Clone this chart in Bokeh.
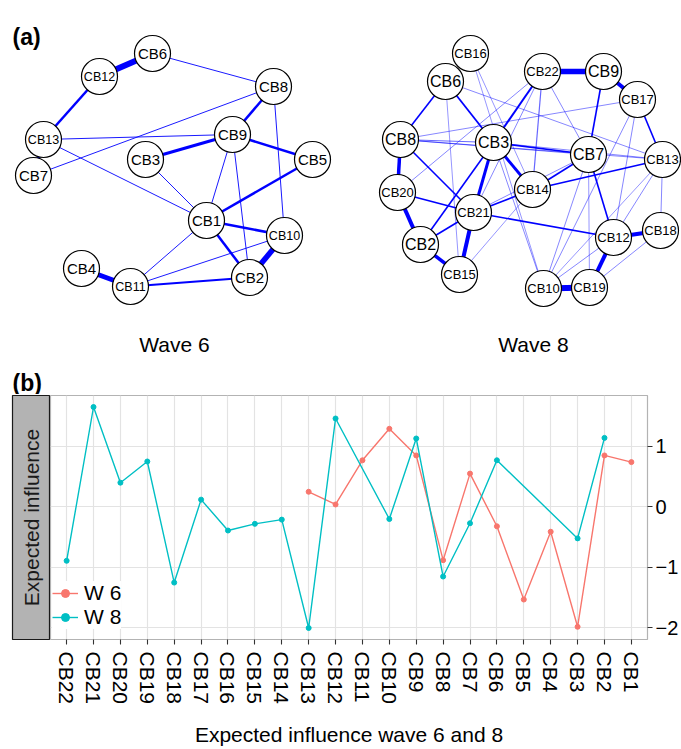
import math
from bokeh.plotting import figure
from bokeh.models import Range1d, FixedTicker, ColumnDataSource, Legend, LegendItem
from bokeh.layouts import column, row
from bokeh.embed import file_html
from bokeh.resources import INLINE
from bokeh.core.properties import value

FONT = "Liberation Sans"

# ---------------- data: panel (b) ----------------
categories = ["CB22", "CB21", "CB20", "CB19", "CB18", "CB17", "CB16", "CB15",
              "CB14", "CB13", "CB12", "CB11", "CB10", "CB9", "CB8", "CB7",
              "CB6", "CB5", "CB4", "CB3", "CB2", "CB1"]
w6_values = [None, None, None, None, None, None, None, None, None,
             0.25, 0.04, 0.77, 1.29, 0.85, -0.88, 0.55, -0.32, -1.53,
             -0.41, -1.98, 0.85, 0.74]
w8_values = [-0.89, 1.65, 0.40, 0.75, -1.25, 0.12, -0.39, -0.28, -0.21,
             -2.00, 1.46, None, -0.20, 1.13, -1.15, -0.27, 0.77, None,
             None, -0.52, 1.14, None]
y_ticks = [-2, -1, 0, 1]
y_tick_labels = ["\u22122", "\u22121", "0", "1"]
series_names = ["W 6", "W 8"]
series_colors = ["#F8766D", "#00BFC4"]

# ---------------- data: panel (a) networks (layout coordinates) ----------------
w6_nodes = ["CB1", "CB2", "CB3", "CB4", "CB5", "CB6", "CB7", "CB8", "CB9",
            "CB10", "CB11", "CB12", "CB13"]
w6_x = [206, 249, 145, 81, 312, 152, 33, 273, 232, 284, 130, 99, 43]
w6_y = [220, 277, 159, 268, 159, 53, 175, 86, 134, 235, 286, 76, 139]
w6_edges = [("CB6", "CB12", 6.0), ("CB6", "CB8", 1.0), ("CB12", "CB13", 2.5),
            ("CB13", "CB7", 3.5), ("CB13", "CB9", 1.0), ("CB13", "CB1", 1.0),
            ("CB7", "CB8", 1.0), ("CB8", "CB9", 2.5), ("CB8", "CB10", 1.0),
            ("CB9", "CB3", 3.0), ("CB9", "CB5", 2.5), ("CB9", "CB1", 1.0),
            ("CB9", "CB2", 1.0), ("CB3", "CB1", 1.0), ("CB5", "CB1", 2.5),
            ("CB1", "CB10", 2.5), ("CB1", "CB2", 2.5), ("CB1", "CB11", 1.0),
            ("CB10", "CB2", 5.5), ("CB10", "CB11", 1.0), ("CB4", "CB11", 5.0),
            ("CB11", "CB2", 2.0)]

w8_nodes = ["CB16", "CB6", "CB22", "CB9", "CB17", "CB8", "CB3", "CB7", "CB13",
            "CB20", "CB14", "CB21", "CB2", "CB15", "CB12", "CB18", "CB19", "CB10"]
w8_x = [470, 445, 542, 603, 637, 400, 493, 588, 662, 397, 532, 473, 420, 459,
        613, 660, 589, 543]
w8_y = [53, 81, 71, 71, 99, 139, 142, 154, 159, 192, 189, 212, 244, 274, 237,
        230, 287, 288]
w8_edges = [("CB22", "CB9", 5.5), ("CB9", "CB17", 4.0), ("CB9", "CB7", 1.6),
            ("CB17", "CB13", 1.6), ("CB17", "CB8", 0.8), ("CB17", "CB10", 0.8),
            ("CB17", "CB12", 0.8), ("CB22", "CB3", 2.0), ("CB22", "CB20", 0.8),
            ("CB22", "CB21", 0.8), ("CB22", "CB7", 0.8), ("CB22", "CB14", 1.2),
            ("CB6", "CB8", 1.6), ("CB6", "CB3", 1.8), ("CB6", "CB15", 0.7),
            ("CB6", "CB13", 0.8), ("CB16", "CB14", 0.7), ("CB16", "CB10", 0.7),
            ("CB8", "CB20", 3.5), ("CB8", "CB21", 1.6), ("CB8", "CB3", 1.2),
            ("CB8", "CB7", 0.9), ("CB8", "CB13", 0.8), ("CB20", "CB2", 4.0),
            ("CB20", "CB21", 1.6), ("CB2", "CB15", 3.5), ("CB2", "CB21", 1.6),
            ("CB2", "CB3", 1.6), ("CB21", "CB15", 4.0), ("CB21", "CB3", 3.0),
            ("CB21", "CB14", 1.6), ("CB21", "CB7", 0.8), ("CB21", "CB12", 1.6),
            ("CB3", "CB14", 3.0), ("CB3", "CB7", 1.6), ("CB3", "CB13", 0.8),
            ("CB3", "CB10", 0.8), ("CB14", "CB7", 1.6), ("CB14", "CB13", 1.6),
            ("CB15", "CB14", 0.7), ("CB7", "CB12", 1.6), ("CB7", "CB10", 0.8),
            ("CB7", "CB19", 0.7), ("CB13", "CB12", 0.8), ("CB13", "CB10", 0.7),
            ("CB13", "CB18", 0.8), ("CB12", "CB18", 4.0), ("CB12", "CB19", 4.0),
            ("CB12", "CB10", 0.8), ("CB18", "CB19", 0.8), ("CB10", "CB19", 6.0)]

network_titles = ["Wave 6", "Wave 8"]

# ---------------- panel (a) ----------------
pa = figure(width=681, height=394, x_range=Range1d(0, 681), y_range=Range1d(394, 0),
            x_axis_location=None, y_axis_location=None, output_backend="svg",
            toolbar_location=None, min_border=0)
pa.grid.visible = False
pa.outline_line_color = None


def draw_network(p, nodes, xs, ys, edges, big_fs, small_fs, thin_alpha):
    pos = {n: (x, y) for n, x, y in zip(nodes, xs, ys)}
    esrc = ColumnDataSource(dict(
        x0=[pos[a][0] for a, b, w in edges], y0=[pos[a][1] for a, b, w in edges],
        x1=[pos[b][0] for a, b, w in edges], y1=[pos[b][1] for a, b, w in edges],
        lw=[w for a, b, w in edges],
        la=[1.0 if w >= 1.5 else thin_alpha for a, b, w in edges]))
    p.segment("x0", "y0", "x1", "y1", source=esrc, line_width="lw", line_alpha="la",
              line_color="#0000FF")
    nsrc = ColumnDataSource(dict(x=xs, y=ys, t=nodes,
                                 fs=[big_fs if len(n) <= 3 else small_fs for n in nodes]))
    p.scatter("x", "y", source=nsrc, size=36, marker="circle", fill_color="white",
              line_color="black", line_width=1.2)
    p.text("x", "y", text="t", source=nsrc, text_font_size="fs", text_align="center",
           text_baseline="middle", text_font=value(FONT), text_color="black")


draw_network(pa, w6_nodes, w6_x, w6_y, w6_edges, "15px", "12.5px", 0.9)
draw_network(pa, w8_nodes, w8_x, w8_y, w8_edges, "16px", "13px", 0.6)

pa.text(x=[174, 533], y=[344, 344], text=network_titles, text_font_size="21px",
        text_align="center", text_baseline="middle", text_font=value(FONT),
        text_color="black")
pa.text(x=[12, 12], y=[36, 382], text=["(a)", "(b)"], text_font_size="23px",
        text_font_style="bold", text_align="left", text_baseline="alphabetic",
        text_font=value(FONT), text_color="black")

# ---------------- panel (b) ----------------
xpos = list(range(1, len(categories) + 1))

strip = figure(width=50, height=355, x_range=Range1d(-1, 1), y_range=Range1d(-1, 1),
               x_axis_location=None, y_axis_location=None, output_backend="svg",
               toolbar_location=None, min_border_left=12, min_border_right=0,
               min_border_top=1, min_border_bottom=106)
strip.grid.visible = False
strip.background_fill_color = "#B3B3B3"
strip.outline_line_color = "#1a1a1a"
strip.outline_line_width = 1.2
strip.text(x=[0], y=[0], text=["Expected influence"], angle=math.pi / 2,
           text_font_size="21px", text_align="center", text_baseline="middle",
           text_font=value(FONT), text_color="#1a1a1a")

pb = figure(width=631, height=355, x_range=Range1d(0.4, len(categories) + 0.6),
            y_range=Range1d(-2.19, 1.84), y_axis_location="right",
            output_backend="svg", toolbar_location=None, min_border_left=0,
            min_border_top=1, min_border_bottom=106, min_border_right=0)
pb.outline_line_color = "#B3B3B3"
pb.outline_line_width = 1.2
pb.background_fill_color = "white"

pb.xaxis.ticker = FixedTicker(ticks=xpos)
pb.xaxis.major_label_overrides = {i: c for i, c in zip(xpos, categories)}
pb.xaxis.major_label_orientation = "vertical"
pb.yaxis.ticker = FixedTicker(ticks=y_ticks)
pb.yaxis.major_label_overrides = {t: l for t, l in zip(y_ticks, y_tick_labels)}
for ax in (pb.xaxis, pb.yaxis):
    ax.axis_line_color = None
    ax.major_tick_line_color = "#333333"
    ax.major_tick_line_width = 1.1
    ax.major_tick_in = 0
    ax.major_tick_out = 5
    ax.minor_tick_line_color = None
    ax.major_label_text_font = FONT
    ax.major_label_text_color = "black"
pb.xaxis.major_label_text_font_size = "21px"
pb.xaxis.major_label_standoff = 7
pb.yaxis.major_label_text_font_size = "20px"
pb.yaxis.major_label_standoff = 3
pb.xaxis.axis_label = "Expected influence wave 6 and 8"
pb.xaxis.axis_label_text_font = FONT
pb.xaxis.axis_label_text_font_size = "21px"
pb.xaxis.axis_label_text_font_style = "normal"
pb.xaxis.axis_label_text_color = "black"
pb.xaxis.axis_label_standoff = 16
pb.grid.grid_line_color = "#E3E3E3"
pb.grid.grid_line_width = 1.2

items = []
for name, vals, col in zip(series_names, [w6_values, w8_values], series_colors):
    xs = [x for x, v in zip(xpos, vals) if v is not None]
    ys = [v for v in vals if v is not None]
    src = ColumnDataSource(dict(x=xs, y=ys))
    rl = pb.line("x", "y", source=src, line_color=col, line_width=1.4)
    rp = pb.scatter("x", "y", source=src, size=5, marker="circle", fill_color=col,
                    line_color=col)
    items.append(LegendItem(label=name, renderers=[rl, rp]))

legend = Legend(items=items, location=(2, 10), background_fill_color="white",
                background_fill_alpha=1.0, border_line_color=None,
                label_text_font=FONT, label_text_font_size="21px",
                label_text_color="black", glyph_width=26, glyph_height=20,
                label_height=20, label_standoff=6, spacing=0, padding=6, margin=0)
pb.add_layout(legend)

layout = column(pa, row(strip, pb))

with open("out.html", "w") as f:
    f.write(file_html(layout, INLINE))
